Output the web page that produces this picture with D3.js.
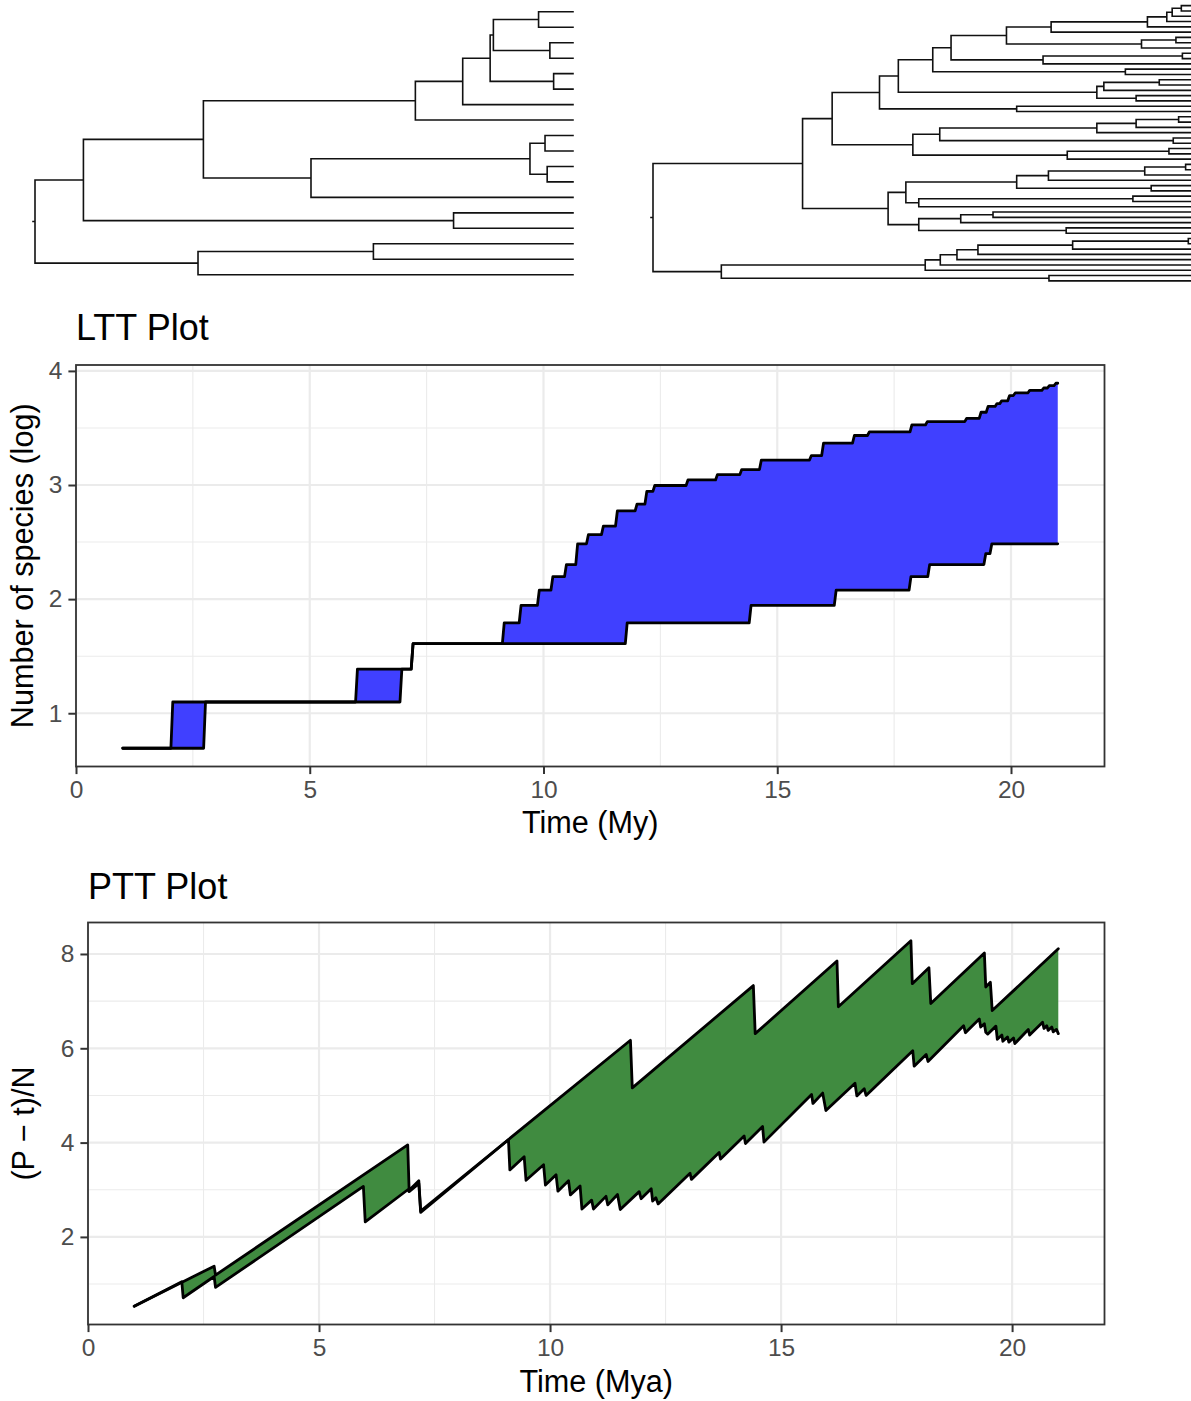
<!DOCTYPE html>
<html>
<head>
<meta charset="utf-8">
<script src="https://cdn.jsdelivr.net/npm/d3@7"></script>
<style>
  body { margin: 0; background: #fff; }
  svg { display: block; font-family: "Liberation Sans", Arial, Helvetica, sans-serif; }
</style>
</head>
<body>
<svg id="chart" width="1191" height="1401"></svg>
<script>
var TIP = 100; // node depths are % of the root-to-tip height, a bare number is a tip

// small tree (left): [depth, child, child]
var treeLeft = [0,
  [9.0,
    [31.3,
      [70.7,
        [79.5,
          [84.6,
            [85.2, [93.6, TIP, TIP], [95.7, TIP, TIP]],
            [96.4, TIP, TIP]],
          TIP],
        TIP],
      [51.3,
        [92.0, [94.8, TIP, TIP], [95.2, TIP, TIP]],
        TIP]],
    [77.8, TIP, TIP]],
  [30.3, [62.9, TIP, TIP], TIP]];

// large tree (right)
var treeRight = [0,
  [27.8,
    [33.3,
      [42.1,
        [45.6,
          [52.0,
            [55.4,
              [65.7,
                [74.0, [91.9, [95.5, [96.5, [98.2, TIP, TIP], TIP], TIP], TIP], TIP],
                [90.8, [97.2, TIP, TIP], TIP]],
              [72.5, [98.4, TIP, TIP], TIP]],
            [87.8, TIP, TIP]],
          [82.5, [83.8, [94.1, TIP, TIP], TIP], [89.8, TIP, TIP]]],
        [67.6, TIP, TIP]],
      [48.3,
        [53.3, [82.5, [89.8, [97.7, TIP, TIP], TIP], TIP], [96.7, TIP, TIP]],
        [77.0, [95.9, TIP, TIP], TIP]]],
    [43.7,
      [47.0,
        [67.6, [73.5, [91.4, [99.0, TIP, TIP], TIP], TIP], [92.6, TIP, TIP]],
        [49.4, [89.2, TIP, TIP], TIP]],
      [49.4, [57.2, [63.2, TIP, TIP], TIP], [76.8, TIP, TIP]]]],
  [12.7,
    [50.6, [53.4, [56.5, [60.4, [78.0, [99.5, TIP, TIP], TIP], TIP], TIP], TIP], TIP],
    [73.6, TIP, TIP]]];

// LTT: times of lineage-count changes and the count after each change
var lttUpperTime = [1.00, 2.03, 5.98, 7.17, 9.12, 9.48, 9.87, 10.16, 10.45, 10.69, 10.92, 11.24, 11.54, 11.96, 12.17, 12.34, 13.05, 13.68, 14.20, 14.62, 15.69, 15.95, 16.61, 16.93, 17.84, 18.17, 19.01, 19.32, 19.47, 19.66, 19.76, 19.93, 20.05, 20.36, 20.66, 20.78, 20.92];
var lttUpperN    = [2, 3, 4, 5, 6, 7, 8, 9, 10, 12, 13, 14, 16, 17, 19, 20, 21, 22, 23, 25, 26, 29, 31, 32, 34, 35, 36, 38, 40, 41, 42, 44, 45, 46, 47, 48, 49];
var lttLowerTime = [1.00, 2.73, 6.93, 7.17, 11.75, 14.40, 16.22, 17.82, 18.22, 19.42, 19.55];
var lttLowerN    = [2, 3, 4, 5, 6, 7, 8, 9, 10, 11, 12];
var lttEnd = 21.0;

// PTT: [time, (P - t)/N] vertices
var pttUpper = [[1.00, 0.53], [2.73, 1.38], [2.76, 1.19], [6.92, 3.95], [6.95, 2.99], [7.16, 3.19], [7.20, 2.55],
  [11.74, 6.17], [11.78, 5.16], [14.40, 7.33], [14.44, 6.31], [16.21, 7.85], [16.24, 6.88], [17.81, 8.28], [17.84, 7.37],
  [18.20, 7.71], [18.24, 6.95], [19.40, 8.02], [19.43, 7.30], [19.53, 7.40], [19.57, 6.80], [21.00, 8.11]];
var pttLower = [[1.00, 0.53], [2.03, 1.05], [2.06, 0.71], [2.73, 1.16], [2.76, 0.93], [5.96, 3.07], [6.00, 2.32],
  [6.92, 3.00], [6.95, 2.96], [7.16, 3.13], [7.20, 2.52], [9.10, 4.06], [9.13, 3.42], [9.44, 3.70], [9.48, 3.20],
  [9.86, 3.53], [9.90, 3.10], [10.13, 3.32], [10.17, 2.97], [10.40, 3.19], [10.44, 2.89], [10.65, 3.08], [10.69, 2.59],
  [10.90, 2.78], [10.94, 2.59], [11.21, 2.86], [11.25, 2.68], [11.46, 2.90], [11.52, 2.58], [11.93, 2.96], [11.97, 2.81],
  [12.19, 3.02], [12.22, 2.76], [12.29, 2.83], [12.34, 2.70], [13.03, 3.35], [13.06, 3.22], [13.66, 3.79], [13.69, 3.65],
  [14.20, 4.14], [14.23, 3.98], [14.60, 4.34], [14.63, 4.01], [15.66, 5.02], [15.69, 4.83], [15.90, 5.05], [15.97, 4.68],
  [16.60, 5.26], [16.64, 4.99], [16.80, 5.14], [16.84, 5.00], [17.85, 5.95], [17.88, 5.62], [18.14, 5.87], [18.18, 5.72],
  [18.95, 6.48], [18.99, 6.33], [19.29, 6.62], [19.32, 6.45], [19.40, 6.52], [19.43, 6.34], [19.47, 6.30], [19.65, 6.47],
  [19.68, 6.19], [19.78, 6.28], [19.80, 6.15], [19.90, 6.24], [19.93, 6.13], [20.03, 6.22], [20.06, 6.10], [20.35, 6.40],
  [20.38, 6.28], [20.66, 6.55], [20.69, 6.42], [20.75, 6.48], [20.78, 6.38], [20.86, 6.45], [20.89, 6.35], [20.96, 6.40],
  [21.00, 6.31]];

var xMajor = [0, 5, 10, 15, 20];
var xMinor = [2.5, 7.5, 12.5, 17.5];
var lttYMajor = [1, 2, 3, 4];
var lttYMinor = [1.5, 2.5, 3.5];
var pttYMajor = [2, 4, 6, 8];
var pttYMinor = [1, 3, 5, 7];

var svg = d3.select("#chart");
var grid = "#ebebeb", ink = "#333333";

// ---------------- trees ----------------
function buildNode(n) {
  if (!Array.isArray(n)) return { depth: n, children: [] };
  return { depth: n[0], children: n.slice(1).map(buildNode) };
}
function placeTips(node, counter) {
  if (!node.children.length) { node.y = counter.i++; return; }
  node.children.forEach(c => placeTips(c, counter));
  node.y = d3.mean(node.children, c => c.y); // ggtree-style: mean of child positions
}
function drawTree(nested, x0, x1) {
  var root = buildNode(nested);
  var counter = { i: 0 };
  placeTips(root, counter);
  var n = counter.i;
  var x = d3.scaleLinear().domain([0, 100]).range([x0, x1]);
  var y = d3.scaleLinear().domain([-0.6, n - 0.4]).range([2.5, 284]);
  var p = d3.path();
  (function walk(node) {
    if (!node.children.length) return;
    var ys = node.children.map(c => c.y);
    p.moveTo(x(node.depth), y(d3.min(ys)));
    p.lineTo(x(node.depth), y(d3.max(ys)));
    node.children.forEach(c => {
      p.moveTo(x(node.depth), y(c.y));
      p.lineTo(x(c.depth), y(c.y));
      walk(c);
    });
  })(root);
  p.moveTo(x(0) - 2, y(root.y));
  p.lineTo(x(0), y(root.y));
  svg.append("path").attr("d", p.toString())
    .attr("fill", "none").attr("stroke", "#111").attr("stroke-width", 1.6)
    .attr("stroke-linecap", "square");
}
drawTree(treeLeft, 35, 573);
drawTree(treeRight, 653, 1191);

// ---------------- helpers ----------------
function expand(ext) {
  var r = ext[1] - ext[0];
  return [ext[0] - r * 0.05, ext[1] + r * 0.05];
}
function stepPoints(times, counts, end) {
  var pts = [[times[0], Math.log(counts[0])]];
  for (var i = 1; i < times.length; i++) {
    pts.push([times[i], Math.log(counts[i - 1])]);
    pts.push([times[i] + 0.04, Math.log(counts[i])]);
  }
  pts.push([end, Math.log(counts[counts.length - 1])]);
  return pts;
}

function drawPanel(o) {
  var g = svg.append("g");
  var box = { l: o.x.range()[0], r: o.x.range()[1], t: o.y.range()[1], b: o.y.range()[0] };

  // grid
  g.selectAll(".vmin").data(o.xMinor).join("line")
    .attr("x1", o.x).attr("x2", o.x).attr("y1", box.t).attr("y2", box.b)
    .attr("stroke", grid).attr("stroke-width", 1.1);
  g.selectAll(".hmin").data(o.yMinor).join("line")
    .attr("y1", o.y).attr("y2", o.y).attr("x1", box.l).attr("x2", box.r)
    .attr("stroke", grid).attr("stroke-width", 1.1);
  g.append("g").selectAll("line").data(o.xMajor).join("line")
    .attr("x1", o.x).attr("x2", o.x).attr("y1", box.t).attr("y2", box.b)
    .attr("stroke", grid).attr("stroke-width", 2.2);
  g.append("g").selectAll("line").data(o.yMajor).join("line")
    .attr("y1", o.y).attr("y2", o.y).attr("x1", box.l).attr("x2", box.r)
    .attr("stroke", grid).attr("stroke-width", 2.2);

  // ribbon + lines
  var line = d3.line().x(d => o.x(d[0])).y(d => o.y(d[1]));
  var poly = o.upper.concat(o.lower.slice().reverse());
  g.append("path").attr("d", line(poly) + "Z").attr("fill", o.fill).attr("stroke", "none");
  [o.lower, o.upper].forEach(pts => {
    g.append("path").attr("d", line(pts)).attr("fill", "none")
      .attr("stroke", "#000").attr("stroke-width", 2.8)
      .attr("stroke-linejoin", "round").attr("stroke-linecap", "round");
  });

  // border
  g.append("rect").attr("x", box.l).attr("y", box.t)
    .attr("width", box.r - box.l).attr("height", box.b - box.t)
    .attr("fill", "none").attr("stroke", ink).attr("stroke-width", 1.8);

  // axes
  var ax = g.append("g").attr("transform", "translate(0," + box.b + ")")
    .call(d3.axisBottom(o.x).tickValues(o.xMajor).tickSize(7.6).tickPadding(6.5).tickFormat(d3.format("d")));
  var ay = g.append("g").attr("transform", "translate(" + box.l + ",0)")
    .call(d3.axisLeft(o.y).tickValues(o.yMajor).tickSize(7.6).tickPadding(6.1).tickFormat(d3.format("d")));
  [ax, ay].forEach(a => {
    a.select(".domain").remove();
    a.attr("font-family", null).attr("font-size", null);
    a.selectAll("line").attr("stroke", ink).attr("stroke-width", 2);
    a.selectAll("text").attr("fill", "#4d4d4d").style("font-size", "24.5px");
  });

  // titles
  g.append("text").attr("x", box.l).attr("y", o.titleY)
    .style("font-size", "36px").attr("fill", "#000").text(o.title);
  g.append("text").attr("x", (box.l + box.r) / 2).attr("y", o.xTitleY)
    .attr("text-anchor", "middle").style("font-size", "30.6px").attr("fill", "#000").text(o.xTitle);
  g.append("text")
    .attr("transform", "translate(" + o.yTitleX + "," + (box.t + box.b) / 2 + ") rotate(-90)")
    .attr("text-anchor", "middle").style("font-size", "30.6px").attr("fill", "#000").text(o.yTitle);
}

// ---------------- LTT ----------------
var lttUp = stepPoints(lttUpperTime, lttUpperN, lttEnd);
var lttLo = stepPoints(lttLowerTime, lttLowerN, lttEnd);
var lttAll = lttUp.concat(lttLo);
drawPanel({
  x: d3.scaleLinear().domain(expand(d3.extent(lttAll, d => d[0]))).range([76, 1104.5]),
  y: d3.scaleLinear().domain(expand(d3.extent(lttAll, d => d[1]))).range([766.5, 365]),
  xMajor: xMajor, xMinor: xMinor, yMajor: lttYMajor, yMinor: lttYMinor,
  upper: lttUp, lower: lttLo, fill: "#4040ff",
  title: "LTT Plot", titleY: 340,
  xTitle: "Time (My)", xTitleY: 833,
  yTitle: "Number of species (log)", yTitleX: 33
});

// ---------------- PTT ----------------
var pttAll = pttUpper.concat(pttLower);
drawPanel({
  x: d3.scaleLinear().domain(expand(d3.extent(pttAll, d => d[0]))).range([88, 1104.5]),
  y: d3.scaleLinear().domain(expand(d3.extent(pttAll, d => d[1]))).range([1324.5, 922.5]),
  xMajor: xMajor, xMinor: xMinor, yMajor: pttYMajor, yMinor: pttYMinor,
  upper: pttUpper, lower: pttLower, fill: "#408b40",
  title: "PTT Plot", titleY: 899,
  xTitle: "Time (Mya)", xTitleY: 1392,
  yTitle: "(P \u2212 t)/N", yTitleX: 34
});
</script>
</body>
</html>
